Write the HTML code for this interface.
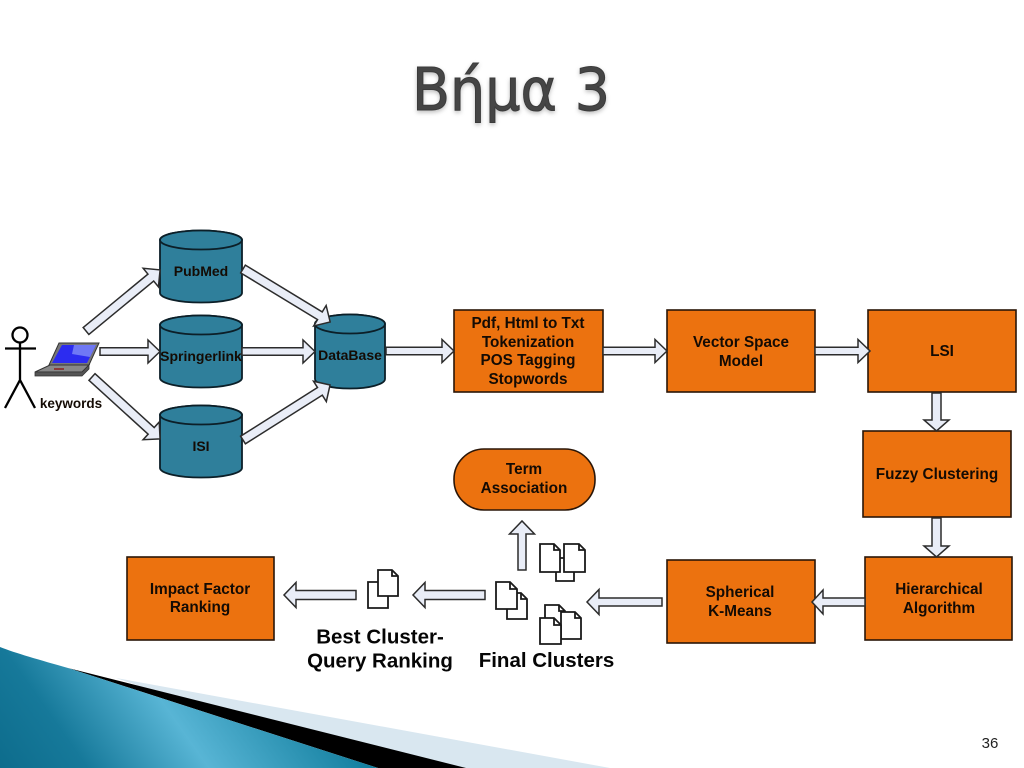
<!DOCTYPE html>
<html><head><meta charset="utf-8"><style>
html,body{margin:0;padding:0;background:#fff}
svg{display:block}
text{font-family:"Liberation Sans",sans-serif;font-weight:bold;fill:#140b04;text-anchor:middle}
.b rect{fill:#ec720f;stroke:#2a1608;stroke-width:1.6}
.a{fill:#e9edf7;stroke:#2c2c2c;stroke-width:1.5}
.c{fill:#2f7f9b;stroke:#0c1f28;stroke-width:1.8}
.d{fill:#fff;stroke:#1a1a1a;stroke-width:1.8}
.m{font-size:15.3px}
.n{font-size:14px}
.l{font-size:20.5px;fill:#050505}
</style></head><body>
<svg width="1024" height="768" viewBox="0 0 1024 768" xmlns="http://www.w3.org/2000/svg">
<defs>
<linearGradient id="g" gradientUnits="userSpaceOnUse" x1="20" y1="800" x2="320" y2="588">
<stop offset="0" stop-color="#0d6c8c"/><stop offset="0.2" stop-color="#16799a"/><stop offset="0.47" stop-color="#58b5d5"/><stop offset="0.85" stop-color="#0f7c9c"/>
</linearGradient>
<filter id="ts" x="-10%" y="-10%" width="120%" height="130%"><feDropShadow dx="0" dy="2" stdDeviation="2" flood-color="#000" flood-opacity=".25"/></filter>
</defs>

<!-- title -->
<text x="511" y="110" textLength="198" lengthAdjust="spacingAndGlyphs" style="font-family:'DejaVu Sans',sans-serif;font-size:59px;font-weight:normal;fill:#454545;stroke:#3a3a3a;stroke-width:1" filter="url(#ts)">Βήμα 3</text>

<!-- footer -->
<polygon points="116,678 610,768 380,768" fill="#d9e7f0"/>
<polygon points="68,668 466,768 378,768" fill="#000"/>
<path d="M0,647 C15,653 40,660 68,668 L378,768 L0,768 Z" fill="url(#g)"/>
<text x="990" y="748" style="font-size:15px;font-weight:normal;fill:#222">36</text>

<!-- cylinders -->
<g class="c">
<path d="M160,240 A41,9.5 0 0 1 242,240 V293 A41,9.5 0 0 1 160,293 Z"/><ellipse cx="201" cy="240" rx="41" ry="9.5"/>
<path d="M160,325 A41,9.5 0 0 1 242,325 V378 A41,9.5 0 0 1 160,378 Z"/><ellipse cx="201" cy="325" rx="41" ry="9.5"/>
<path d="M160,415 A41,9.5 0 0 1 242,415 V468 A41,9.5 0 0 1 160,468 Z"/><ellipse cx="201" cy="415" rx="41" ry="9.5"/>
<path d="M315,324 A35,9.5 0 0 1 385,324 V379 A35,9.5 0 0 1 315,379 Z"/><ellipse cx="350" cy="324" rx="35" ry="9.5"/>
</g>

<!-- actor -->
<g fill="none" stroke="#000" stroke-width="2.3">
<circle cx="20" cy="335" r="7.5"/>
<path d="M20,343V380M5,348.5H36M5,408L20,380L35,408"/>
</g>
<text x="71" y="408" style="font-size:13.5px">keywords</text>

<!-- laptop -->
<polygon points="59,343 99,343 89,365 49,365" fill="#777" stroke="#333" stroke-width="1"/>
<polygon points="62,345 96,345 87,363 52,363" fill="#2c2cf0"/>
<polygon points="74,345 96,345 90,357 72,354" fill="#6f78f5"/>
<polygon points="50,365 89,365 82,372 35,372" fill="#888" stroke="#333" stroke-width="1"/>
<polygon points="35,372 82,372 89,365 89,369 82,376 35,376" fill="#555" stroke="#333" stroke-width=".8"/>
<rect x="54" y="368" width="10" height="2" fill="#8a3a3a"/>

<!-- boxes -->
<g class="b">
<rect x="454" y="310" width="149" height="82"/>
<rect x="667" y="310" width="148" height="82"/>
<rect x="868" y="310" width="148" height="82"/>
<rect x="863" y="431" width="148" height="86"/>
<rect x="865" y="557" width="147" height="83"/>
<rect x="667" y="560" width="148" height="83"/>
<rect x="127" y="557" width="147" height="83"/>
<rect x="454" y="449" width="141" height="61" rx="30" ry="30"/>
</g>

<!-- arrows -->
<g class="a">
<polygon transform="translate(86,331) rotate(-39.5)" points="0,-4.5 84,-4.5 84,-12 96,0 84,12 84,4.5 0,4.5"/>
<polygon transform="translate(100,351.5)" points="0,-3.8 48,-3.8 48,-11.5 60,0 48,11.5 48,3.8 0,3.8"/>
<polygon transform="translate(92,377) rotate(42.3)" points="0,-4.5 80,-4.5 80,-12 92,0 80,12 80,4.5 0,4.5"/>
<polygon transform="translate(243,269) rotate(31.3)" points="0,-4.5 90,-4.5 90,-12 102,0 90,12 90,4.5 0,4.5"/>
<polygon transform="translate(242,351.5)" points="0,-3.8 61,-3.8 61,-11.5 73,0 61,11.5 61,3.8 0,3.8"/>
<polygon transform="translate(243,440) rotate(-32.3)" points="0,-4.5 91,-4.5 91,-12 103,0 91,12 91,4.5 0,4.5"/>
<polygon transform="translate(386,351)" points="0,-3.8 56,-3.8 56,-11.5 68,0 56,11.5 56,3.8 0,3.8"/>
<polygon transform="translate(603,351)" points="0,-3.8 52,-3.8 52,-11.5 64,0 52,11.5 52,3.8 0,3.8"/>
<polygon transform="translate(815,351)" points="0,-3.8 43,-3.8 43,-11.5 55,0 43,11.5 43,3.8 0,3.8"/>
<polygon transform="translate(936.5,393) rotate(90)" points="0,-4.5 27,-4.5 27,-12.5 38,0 27,12.5 27,4.5 0,4.5"/>
<polygon transform="translate(936.5,518) rotate(90)" points="0,-4.5 28,-4.5 28,-12.5 39,0 28,12.5 28,4.5 0,4.5"/>
<polygon transform="translate(865,602) rotate(180)" points="0,-4 42,-4 42,-12 53,0 42,12 42,4 0,4"/>
<polygon transform="translate(662,602) rotate(180)" points="0,-4 63,-4 63,-12.5 75,0 63,12.5 63,4 0,4"/>
<polygon transform="translate(485,595) rotate(180)" points="0,-4.5 60,-4.5 60,-12.5 72,0 60,12.5 60,4.5 0,4.5"/>
<polygon transform="translate(356,595) rotate(180)" points="0,-4.5 60,-4.5 60,-12.5 72,0 60,12.5 60,4.5 0,4.5"/>
<polygon transform="translate(522,570) rotate(-90)" points="0,-4 36,-4 36,-12.5 49,0 36,12.5 36,4 0,4"/>
</g>

<!-- cylinder labels -->
<text class="n" x="201" y="276">PubMed</text>
<text class="n" x="201" y="361">Springerlink</text>
<text class="n" x="201" y="451">ISI</text>
<text class="n" x="350" y="360">DataBase</text>

<!-- box labels -->
<g class="m">
<text x="528" y="328">Pdf, Html to Txt</text>
<text x="528" y="347">Tokenization</text>
<text x="528" y="365">POS Tagging</text>
<text x="528" y="384">Stopwords</text>
<text x="741" y="347">Vector Space</text>
<text x="741" y="366">Model</text>
<text x="942" y="356">LSI</text>
<text x="937" y="479">Fuzzy Clustering</text>
<text x="939" y="594">Hierarchical</text>
<text x="939" y="613">Algorithm</text>
<text x="740" y="597">Spherical</text>
<text x="740" y="616">K-Means</text>
<text x="200" y="594">Impact Factor</text>
<text x="200" y="612">Ranking</text>
<text x="524" y="474">Term</text>
<text x="524" y="493">Association</text>
</g>

<!-- documents -->
<g class="d">
<path d="M368,582H382L388,588V608H368Z"/>
<path d="M378,570H392L398,576V596H378Z"/><path d="M392,570V576H398" fill="none"/>
<path d="M507,593H521L527,599V619H507Z"/><path d="M521,593V599H527" fill="none"/>
<path d="M496,582H510L517,589V609H496Z"/><path d="M510,582V589H517" fill="none"/>
<path d="M556,558H574V581H556Z"/>
<path d="M540,544H554L560,550V572H540Z"/><path d="M554,544V550H560" fill="none"/>
<path d="M564,544H579L585,550V572H564Z"/><path d="M579,544V550H585" fill="none"/>
<path d="M545,605H559L565,611V627H545Z"/><path d="M559,605V611H565" fill="none"/>
<path d="M561,612H575L581,618V639H561Z"/><path d="M575,612V618H581" fill="none"/>
<path d="M540,618H554L561,625V644H540Z"/><path d="M554,618V625H561" fill="none"/>
</g>

<!-- large labels -->
<text class="l" x="380" y="643.5">Best Cluster-</text>
<text class="l" x="380" y="667.5">Query Ranking</text>
<text class="l" x="546.5" y="667">Final Clusters</text>
</svg>
</body></html>
